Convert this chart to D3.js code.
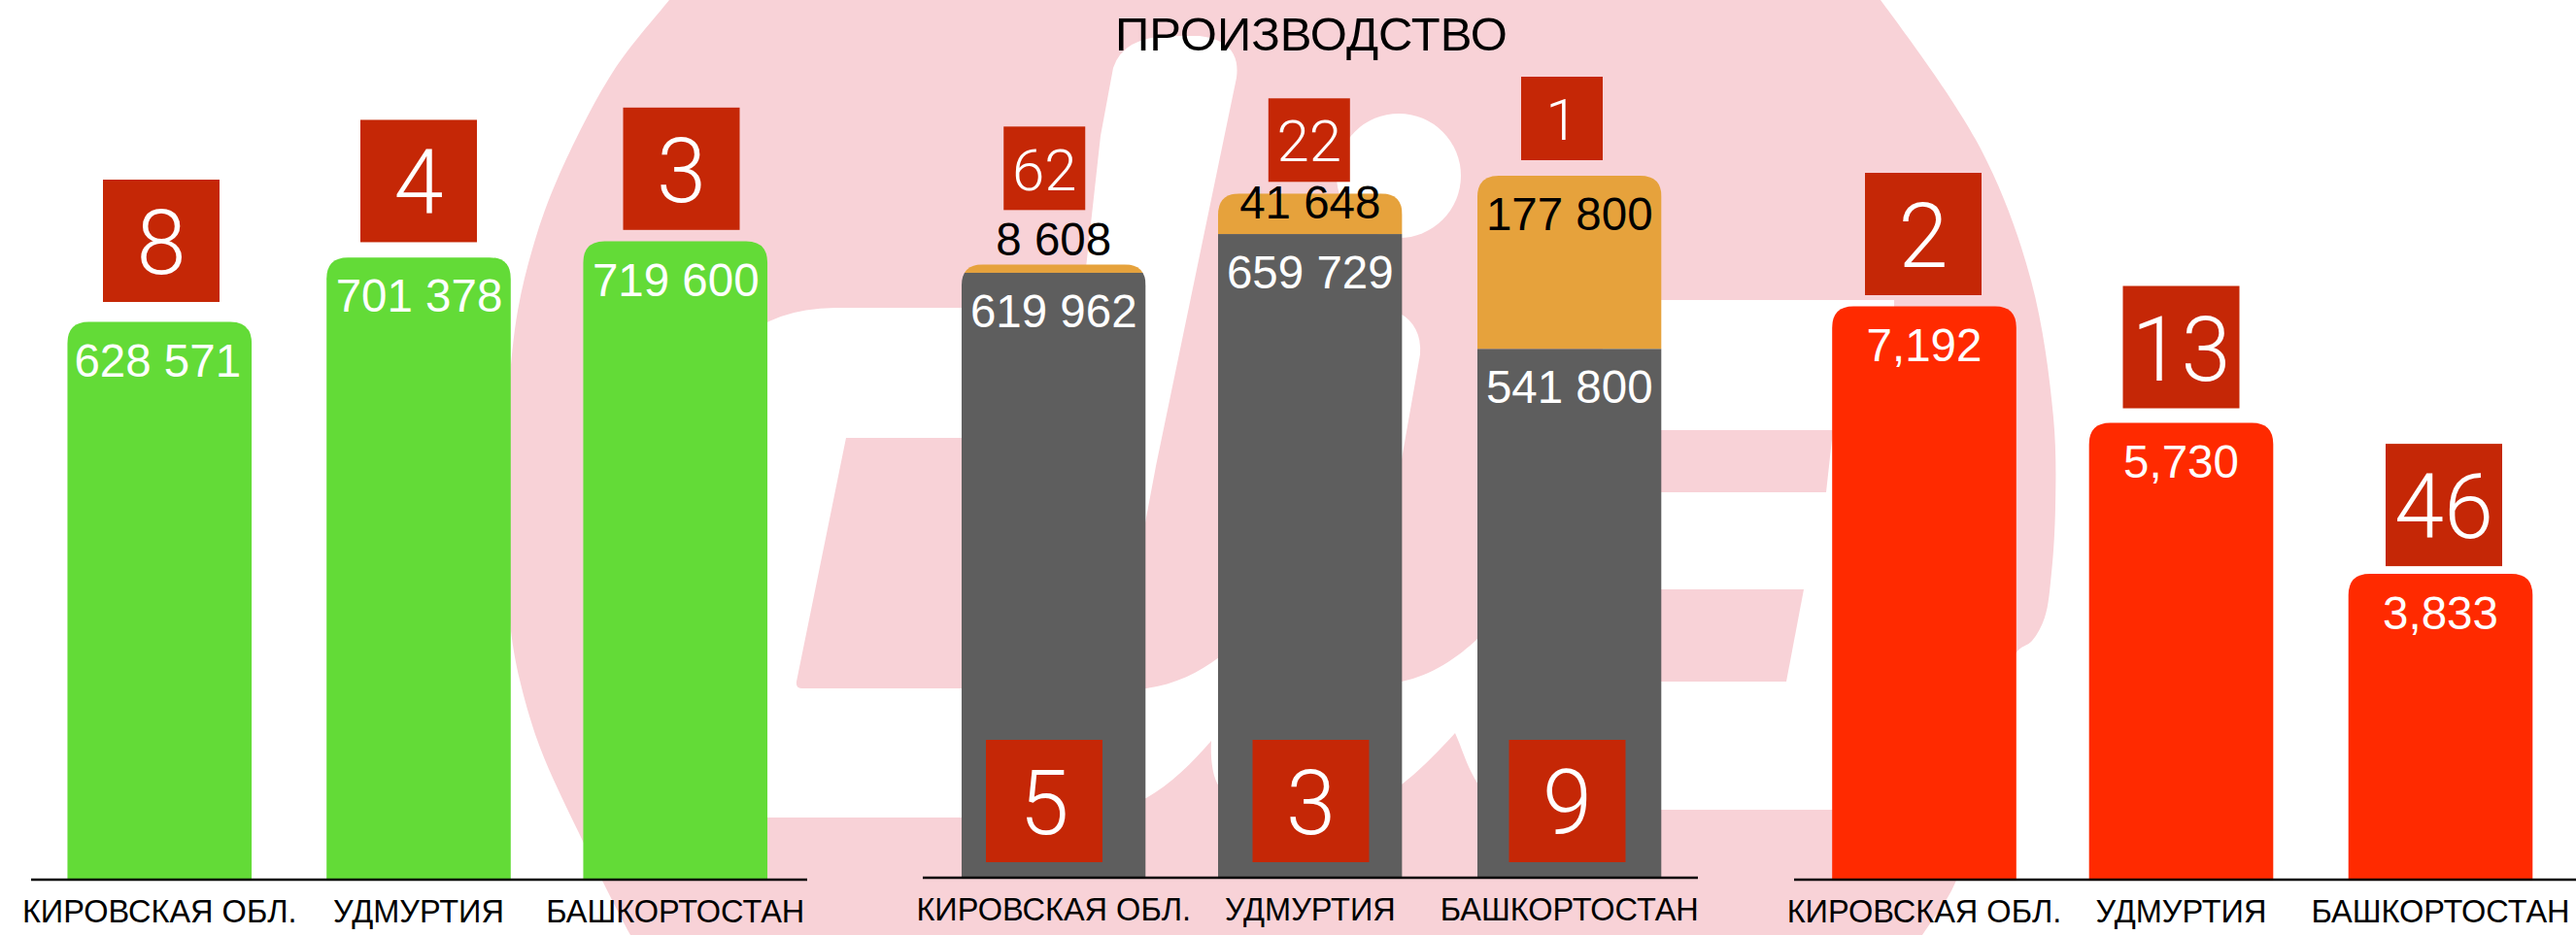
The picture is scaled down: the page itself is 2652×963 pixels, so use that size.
<!DOCTYPE html>
<html><head><meta charset="utf-8">
<script src="https://cdn.jsdelivr.net/npm/d3@7/dist/d3.min.js"></script>
<style>
html,body{margin:0;padding:0;background:#fff;overflow:hidden}
svg{display:block}
text{font-family:"Liberation Sans",Arial,sans-serif}
.rank{font-family:Roboto,"Liberation Sans",sans-serif;font-weight:300}
</style></head><body>
<svg id="c" width="2652" height="963"></svg>
<script>
// ---- data ----
const regions = ["КИРОВСКАЯ ОБЛ.", "УДМУРТИЯ", "БАШКОРТОСТАН"];
const title = "ПРОИЗВОДСТВО";
const leftValues = [628571, 701378, 719600];
const leftRanks = [8, 4, 3];
const midBaseValues = [619962, 659729, 541800];
const midTopValues = [8608, 41648, 177800];
const midBaseRanks = [5, 3, 9];
const midTopRanks = [62, 22, 1];
const rightValues = [7192, 5730, 3833];
const rightRanks = [2, 13, 46];

// ---- layout ----
const W = 2652, H = 963, BAR_W = 189.6, R = 22;
const C = {green:"#63DB37", gray:"#5E5E5E", orange:"#E6A23C", red:"#FF2A00", box:"#C52706", pink:"#F8D2D7"};
const spaced = d3.formatLocale({decimal:".",thousands:" ",grouping:[3],currency:["",""]}).format(",");
const comma = d3.format(",");
const svg = d3.select("#c");

const panels = {
  left:  {centers:[164.25,431,695.25],  base:905.5, top:248.5, max:719600, line:[32,831],     axisY:906},
  mid:   {centers:[1084.75,1348.8,1615.75], base:903, top:181, max:719600, line:[950,1748],   axisY:904},
  right: {centers:[1981,2245.5,2512.5], base:905.5, top:315.6, max:7192,   line:[1847,2652],  axisY:906}
};
for (const p of Object.values(panels)) {
  p.x = d3.scaleOrdinal().domain(regions).range(p.centers);
  p.y = d3.scaleLinear().domain([0,p.max]).range([p.base,p.top]);
}

// ---- background logo ----
const bg = svg.append("g");
const smooth = d3.line().curve(d3.curveCatmullRom.alpha(0.5));
const blobLeft = [[705,-20],[689,0],[631,74],[574,184],[550,250],[533,320],[524,400],[520,480],[521,580],[526,650],[535,700],[556,770],[597,860],[649,963],[662,985]];
const blobRight = [[1965,985],[1979,963],[2013,909],[2060,740],[2076,672],[2092,660],[2105,636],[2112,590],[2116,522],[2114,430],[2091,289],[2039,153],[1936,0],[1920,-20]];
bg.append("path").attr("fill",C.pink).attr("d", smooth(blobLeft)+"L"+smooth(blobRight).slice(1)+"Z");
const white = [
 "M740,842L740,385Q770,318 860,317L1130,317L1130,451L871,451L820,702Q819,709 826,709L1180,709C1210,705 1235,692 1255,677L1350,660L1443,702C1475,695 1500,678 1522,657L1600,702L1950,702L1950,834L1710,834L1522,808C1510,790 1505,770 1498,755C1480,775 1462,793 1443,808L1255,810C1248,800 1246,780 1247,763C1228,785 1205,808 1180,822L990,842Z",
 "M1095,400L1105,340L1118,276L1133,140L1146,70Q1156,38 1205,37L1235,37Q1278,42 1273,80L1190,480L1175,560L1095,560Z",
 "M1400,315L1440,322Q1464,335 1462,365L1440,490L1400,490Z",
 "M1650,309L1950,309L1950,720L1650,720Z"
];
white.forEach(d=>bg.append("path").attr("fill","#fff").attr("d",d));
bg.append("circle").attr("cx",1440).attr("cy",181).attr("r",64).attr("fill","#fff");
["M1640,443L1887,443L1880,507L1640,507Z","M1640,607L1857,607L1839,702L1640,702Z"].forEach(d=>
  bg.append("path").attr("fill",C.pink).attr("d",d));

// ---- helpers ----
const topRounded = (x,yT,yB,w,r)=>{
  const d=d3.path(); const rr=Math.min(r,yB-yT);
  d.moveTo(x,yB); d.lineTo(x,yT+rr); d.quadraticCurveTo(x,yT,x+rr,yT);
  d.lineTo(x+w-rr,yT); d.quadraticCurveTo(x+w,yT,x+w,yT+rr); d.lineTo(x+w,yB); d.closePath();
  return d.toString();
};
function valueLabel(x,y,s,fill){
  svg.append("text").attr("x",x).attr("y",y).attr("text-anchor","middle")
    .attr("font-size",47.5).attr("fill",fill).text(s);
}
function rankBox(cx,bottom,w,h,fs,rank){
  svg.append("rect").attr("x",cx-w/2).attr("y",bottom-h).attr("width",w).attr("height",h).attr("fill",C.box);
  svg.append("text").attr("class","rank").attr("x",cx).attr("y",bottom-h/2+fs*0.37).attr("text-anchor","middle")
    .attr("font-size",fs).attr("fill","#fff").text(rank);
}
function axisFor(p,labelY){
  svg.append("line").attr("x1",p.line[0]).attr("x2",p.line[1]).attr("y1",p.axisY).attr("y2",p.axisY)
    .attr("stroke","#000").attr("stroke-width",2.4);
  const g=svg.append("g").attr("transform",`translate(-0.5,${p.axisY})`)
    .call(d3.axisBottom(p.x).tickSize(0).tickPadding(0));
  g.select(".domain").remove();
  g.selectAll("text").attr("font-family",'"Liberation Sans",Arial,sans-serif').attr("font-size",32.5).attr("fill","#000")
    .attr("dy",0).attr("y",labelY-p.axisY);
}

// ---- left panel ----
{
  const p=panels.left, labelNudge=[-2,0.5,0.5], boxGap=[20.6,15.7,11.7], boxNudge=[1.75,0,6.25];
  regions.forEach((r,i)=>{
    const cx=p.x(r), y=p.y(leftValues[i]);
    svg.append("path").attr("fill",C.green).attr("d",topRounded(cx-BAR_W/2,y,p.base,BAR_W,R));
    valueLabel(cx+labelNudge[i],y+56,spaced(leftValues[i]),"#fff");
    rankBox(cx+boxNudge[i],y-boxGap[i],120,126,92,leftRanks[i]);
  });
  axisFor(p,950);
}
// ---- middle panel ----
{
  const p=panels.mid, topLabelDy=[-9,26,56], topBoxGap=[56,12,16], topBoxNudge=[-9.5,-1,-7.75], baseBoxNudge=[-9.75,0.7,-2.25];
  regions.forEach((r,i)=>{
    const cx=p.x(r), ySplit=p.y(midBaseValues[i]), yTop=p.y(midBaseValues[i]+midTopValues[i]);
    const id="clip"+i;
    svg.append("clipPath").attr("id",id).append("path").attr("d",topRounded(cx-BAR_W/2,yTop,p.base,BAR_W,R));
    const g=svg.append("g").attr("clip-path",`url(#${id})`);
    g.append("rect").attr("x",cx-BAR_W/2).attr("width",BAR_W).attr("y",yTop).attr("height",ySplit-yTop).attr("fill",C.orange);
    g.append("rect").attr("x",cx-BAR_W/2).attr("width",BAR_W).attr("y",ySplit).attr("height",p.base-ySplit).attr("fill",C.gray);
    valueLabel(cx,ySplit+56,spaced(midBaseValues[i]),"#fff");
    valueLabel(cx,yTop+topLabelDy[i],spaced(midTopValues[i]),"#000");
    rankBox(cx+topBoxNudge[i],yTop-topBoxGap[i],84,86,60,midTopRanks[i]);
    rankBox(cx+baseBoxNudge[i],p.base-15,120,126,92,midBaseRanks[i]);
  });
  axisFor(p,947.5);
}
// ---- right panel ----
{
  const p=panels.right, boxGap=[11.6,15,8], boxNudge=[-1,0,3.5];
  regions.forEach((r,i)=>{
    const cx=p.x(r), y=p.y(rightValues[i]);
    svg.append("path").attr("fill",C.red).attr("d",topRounded(cx-BAR_W/2,y,p.base,BAR_W,R));
    valueLabel(cx,y+56.5,comma(rightValues[i]),"#fff");
    rankBox(cx+boxNudge[i],y-boxGap[i],120,126,92,rightRanks[i]);
  });
  axisFor(p,950);
}
// ---- title ----
svg.append("text").attr("x",1350).attr("y",52).attr("text-anchor","middle").attr("font-size",49).attr("fill","#000").text(title);
</script>
</body></html>
